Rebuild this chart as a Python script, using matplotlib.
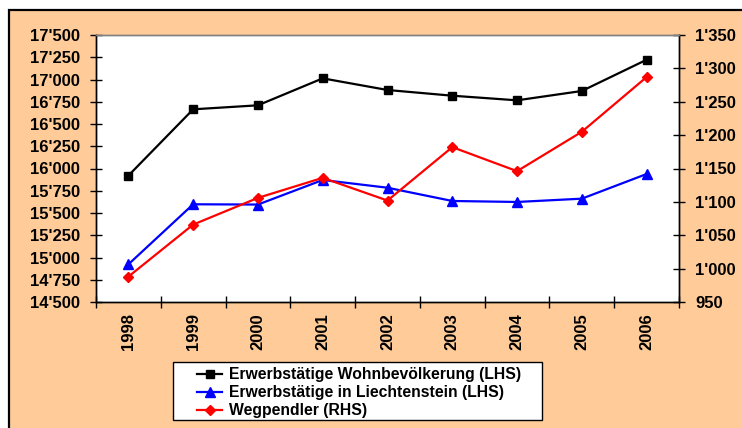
import numpy as np
import matplotlib
matplotlib.use("Agg")
import matplotlib.pyplot as plt
from matplotlib.patches import Rectangle
from matplotlib.ticker import FuncFormatter, FixedLocator

years = ["1998", "1999", "2000", "2001", "2002", "2003", "2004", "2005", "2006"]
wohnbev = [15920, 16665, 16710, 17013, 16882, 16818, 16766, 16871, 17222]
in_fl = [14923, 15598, 15595, 15871, 15784, 15635, 15624, 15661, 15938]
wegpendler = [988, 1066, 1106, 1136, 1102, 1182, 1146, 1205, 1287]

plt.rcParams["font.family"] = ["Liberation Sans", "DejaVu Sans"]
plt.rcParams["font.weight"] = "bold"
plt.rcParams["font.size"] = 12

peach = "#FFCC99"
W, H = 742, 428

fig = plt.figure(figsize=(7.42, 4.28), dpi=100)
fig.patch.set_facecolor("white")
# peach chart area with black border (runs off right / bottom)
bg = Rectangle((9 / W, -0.05), 1.1, 1 - 10 / H + 0.05,
               transform=fig.transFigure, facecolor=peach,
               edgecolor="black", linewidth=1.6, zorder=-10)
fig.add_artist(bg)

ax = fig.add_axes([96 / W, 1 - 302 / H, (679 - 96) / W, (302 - 35) / H])
ax.set_facecolor("white")
ax2 = ax.twinx()

x = np.arange(len(years))
l1, = ax.plot(x, wohnbev, color="black", marker="s", markersize=6, linewidth=1.6,
              label="Erwerbstätige Wohnbevölkerung (LHS)")
l2, = ax.plot(x, in_fl, color="blue", marker="^", markersize=7, linewidth=1.6,
              label="Erwerbstätige in Liechtenstein (LHS)")
l3, = ax2.plot(x, wegpendler, color="red", marker="D", markersize=5, linewidth=1.6,
               label="Wegpendler (RHS)")

ax.set_xlim(-0.5, len(years) - 0.5)
ax.set_ylim(14500, 17500)
ax.set_yticks(np.arange(14500, 17501, 250))
ax2.set_ylim(950, 1350)
ax2.set_yticks(np.arange(950, 1351, 50))

fmt = FuncFormatter(lambda v, p: f"{v:,.0f}".replace(",", "'"))
ax.yaxis.set_major_formatter(fmt)
ax2.yaxis.set_major_formatter(fmt)

ax.set_xticks(x)
ax.set_xticklabels(years, rotation=90)
ax.xaxis.set_minor_locator(FixedLocator(np.arange(-0.5, len(years), 1.0)))
ax.tick_params(axis="x", which="major", length=0, pad=8)
ax.tick_params(axis="x", which="minor", direction="inout", length=9, width=1)
ax.tick_params(axis="y", direction="inout", length=9, width=1, pad=7)
ax2.tick_params(axis="y", direction="inout", length=9, width=1, pad=7)

for a in (ax, ax2):
    for s in a.spines.values():
        s.set_color("black")
        s.set_linewidth(1)
ax.spines["top"].set_color("#808080")
ax2.spines["top"].set_color("#808080")

# legend box drawn separately so it can be wider than its content
box = Rectangle((173 / W, 1 - 420 / H), (542 - 173) / W, (420 - 362) / H,
                transform=fig.transFigure, facecolor="white",
                edgecolor="black", linewidth=1, zorder=-5)
fig.add_artist(box)
leg = fig.legend(handles=[l1, l2, l3], loc="upper left",
                 bbox_to_anchor=(197 / W, 1 - 367 / H), frameon=False,
                 handlelength=1.6, labelspacing=0.2,
                 borderpad=0, handletextpad=0.45, borderaxespad=0,
                 prop={"size": 11.3, "weight": "bold"})

fig.savefig("out.png", dpi=100, facecolor=fig.get_facecolor())
